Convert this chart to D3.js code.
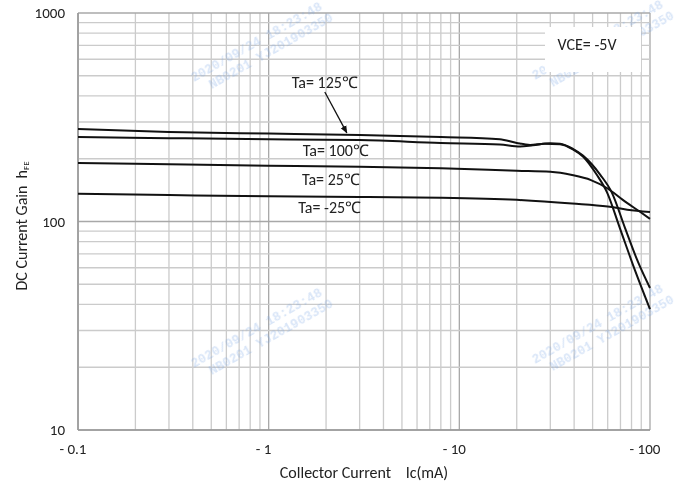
<!DOCTYPE html>
<html>
<head>
<meta charset="utf-8">
<script src="https://d3js.org/d3.v7.min.js"></script>
<title>DC Current Gain vs Collector Current</title>
</head>
<style>
body { margin: 0; background: #fff; }
svg { display: block; }
text { font-family: Calibri, Carlito, Lato, "Liberation Sans", sans-serif; fill: #222; }
</style>
<body>
<svg width="680" height="489"></svg>
</body>
<script>

// collector current (mA, shown as negative) and hFE per temperature
let ic125 = [0.1, 0.3, 1, 3, 8, 16.3, 20, 23.5, 28, 33.7, 39.4, 44.5, 52.7, 59.5, 69.5, 81.4, 100];
let hfe125 = [278, 269, 264, 260, 254, 248, 238, 233, 236, 235, 222, 205, 167, 138, 93, 62, 38];

let ic100 = [0.1, 0.3, 1, 3, 8, 16.3, 20.8, 24.3, 30, 33.7, 39.4, 44.5, 55, 63, 74, 86.5, 100];
let hfe100 = [254, 251, 248, 246, 238, 234, 229, 232, 237, 236, 223, 207, 167, 138, 93, 64, 48];

let ic25 = [0.1, 0.3, 1, 3, 8, 20, 30, 39, 49, 60, 72, 89, 100];
let hfe25 = [191, 188, 185, 183, 180, 175, 173, 167, 158, 144, 127, 111, 103];

let icM25 = [0.1, 0.3, 1, 3, 8, 20, 39, 60, 76, 100];
let hfeM25 = [136, 134, 132, 131, 130, 127, 122, 118, 114, 111];

let xTickValues = [0.1, 1, 10, 100];
let xTickLabels = ["- 0.1", "- 1", "- 10", "- 100"];
let yTickValues = [10, 100, 1000];
let yTickLabels = ["10", "100", "1000"];

// curve labels, placed in data space
let labelTexts = ["Ta= 125\u2103", "Ta= 100\u2103", "Ta= 25\u2103", "Ta= -25\u2103"];
let labelIc = [1.97, 2.25, 2.12, 2.09];
let labelHfe = [437, 205, 150, 110];

let arrowFrom = [1.97, 418];
let arrowTo = [2.57, 266];

let svg = d3.select("svg");

let plotLeft = 78, plotRight = 650, plotTop = 13, plotBottom = 430;

let x = d3.scaleLog().domain([0.1, 100]).range([plotLeft, plotRight]);
let y = d3.scaleLog().domain([10, 1000]).range([plotBottom, plotTop]);

svg.append("defs").append("marker")
  .attr("id", "arrow")
  .attr("viewBox", "0 0 10 10")
  .attr("refX", 9).attr("refY", 5)
  .attr("markerWidth", 6).attr("markerHeight", 6)
  .attr("orient", "auto")
  .append("path")
  .attr("d", "M0,1 L10,5 L0,9 z")
  .attr("fill", "#111");

// grid
let grid = svg.append("g");
function isDecade(v) {
  let l = Math.log10(v);
  return Math.abs(l - Math.round(l)) < 1e-6;
}

grid.selectAll(".vx").data(x.ticks())
  .enter().append("line")
  .attr("x1", function(d){ return x(d); })
  .attr("x2", function(d){ return x(d); })
  .attr("y1", plotTop).attr("y2", plotBottom)
  .attr("stroke", function(d){ return isDecade(d) ? "#a8a8a8" : "#cbcbcb"; })
  .attr("stroke-width", 1.3);

grid.selectAll(".hy").data(y.ticks())
  .enter().append("line")
  .attr("y1", function(d){ return y(d); })
  .attr("y2", function(d){ return y(d); })
  .attr("x1", plotLeft).attr("x2", plotRight)
  .attr("stroke", function(d){ return isDecade(d) ? "#a8a8a8" : "#cbcbcb"; })
  .attr("stroke-width", 1.3);

// axis frame
svg.append("line").attr("x1", plotLeft).attr("x2", plotLeft).attr("y1", plotTop).attr("y2", plotBottom)
  .attr("stroke", "#9a9a9a").attr("stroke-width", 1.6);
svg.append("line").attr("x1", plotLeft).attr("x2", plotRight).attr("y1", plotBottom).attr("y2", plotBottom)
  .attr("stroke", "#9a9a9a").attr("stroke-width", 1.6);

// watermark tiles
let wm = svg.append("g").attr("opacity", 0.3);
let wmPos = [[194, 82], [535, 80], [194, 368], [535, 364]];
wmPos.forEach(function(p){
  let g = wm.append("g").attr("transform", "translate(" + p[0] + "," + p[1] + ") rotate(-29.5)");
  g.append("text").text("2020/09/24 18:23:48")
    .attr("x", 0).attr("y", 0)
    .style("font-family", "'Liberation Mono', monospace").style("font-size", "13px")
    .style("font-weight", "bold").style("fill", "#7fa9e6");
  g.append("text").text("NB0201 YJ201903350")
    .attr("x", 12).attr("y", 15)
    .style("font-family", "'Liberation Mono', monospace").style("font-size", "13px")
    .style("font-weight", "bold").style("fill", "#7fa9e6");
});

// VCE box
svg.append("rect").attr("x", 545).attr("y", 27).attr("width", 96).attr("height", 45)
  .attr("fill", "#fff");
svg.append("text").text("VCE= -5V")
  .attr("x", 587).attr("y", 50).attr("text-anchor", "middle")
  .style("font-size", "16px");

// curves
let line = d3.line()
  .x(function(d){ return x(d[0]); })
  .y(function(d){ return y(d[1]); })
  .curve(d3.curveMonotoneX);

let series = [[ic125, hfe125], [ic100, hfe100], [ic25, hfe25], [icM25, hfeM25]];
svg.append("g").selectAll("path").data(series)
  .enter().append("path")
  .attr("d", function(s){ return line(d3.zip(s[0], s[1])); })
  .attr("fill", "none")
  .attr("stroke", "#111")
  .attr("stroke-width", 2);

// labels
svg.append("g").selectAll("text").data(labelTexts)
  .enter().append("text")
  .text(function(d){ return d; })
  .attr("x", function(d, i){ return x(labelIc[i]); })
  .attr("y", function(d, i){ return y(labelHfe[i]); })
  .attr("text-anchor", "middle")
  .style("font-size", "16px");

svg.append("line")
  .attr("x1", x(arrowFrom[0])).attr("y1", y(arrowFrom[1]))
  .attr("x2", x(arrowTo[0])).attr("y2", y(arrowTo[1]))
  .attr("stroke", "#111").attr("stroke-width", 1.3)
  .attr("marker-end", "url(#arrow)");

// tick labels
svg.append("g").selectAll("text").data(xTickValues)
  .enter().append("text")
  .text(function(d, i){ return xTickLabels[i]; })
  .attr("x", function(d){ return x(d) - 5; })
  .attr("y", 454)
  .attr("text-anchor", "middle")
  .style("font-size", "15px");

svg.append("g").selectAll("text").data(yTickValues)
  .enter().append("text")
  .text(function(d, i){ return yTickLabels[i]; })
  .attr("x", 65)
  .attr("y", function(d){ return y(d); })
  .attr("dy", "0.35em")
  .attr("text-anchor", "end")
  .style("font-size", "15px");

// axis titles
svg.append("text").text("Collector Current\u00a0\u00a0\u00a0\u00a0Ic(mA)")
  .attr("x", 364).attr("y", 478).attr("text-anchor", "middle")
  .style("font-size", "16px");

let yt = svg.append("text")
  .attr("transform", "translate(27,226) rotate(-90)")
  .attr("text-anchor", "middle")
  .style("font-size", "16px");
yt.append("tspan").text("DC Current Gain\u00a0\u00a0h");
yt.append("tspan").text("FE").style("font-size", "9px").attr("dy", 2);

</script>
</html>
